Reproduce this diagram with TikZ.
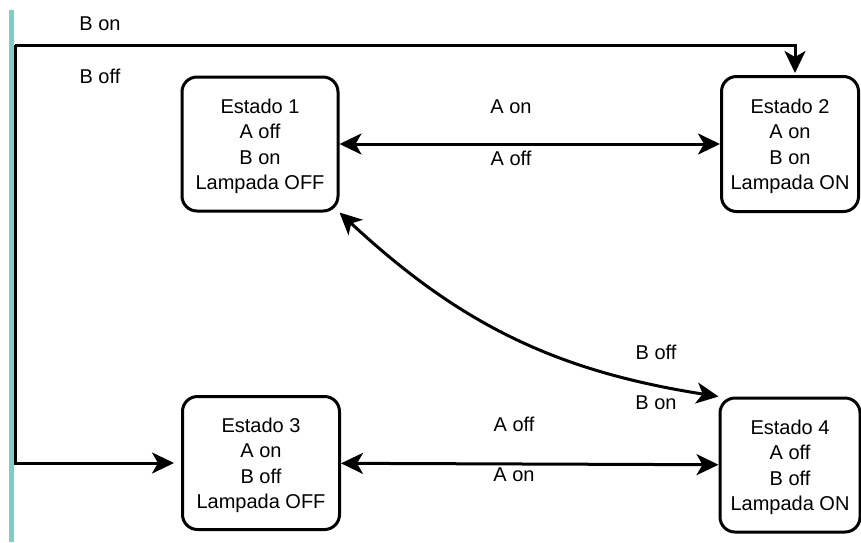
\documentclass[tikz,border=0pt]{standalone}
\usepackage{fontspec}
\setmainfont{Liberation Sans}
\usetikzlibrary{arrows.meta}
\definecolor{barteal}{RGB}{126,206,198}
\begin{document}
\begin{tikzpicture}[x=1pt,y=-1pt,
  >={Stealth[length=22pt,width=21pt,inset=6pt]},
  estado/.style={draw, line width=3pt, rounded corners=15pt, align=center, inner sep=0pt, text depth=0pt, font=\fontsize{20}{25.5}\selectfont},
  link/.style={line width=3pt},
  etiq/.style={font=\fontsize{20}{25}\selectfont}]
\useasboundingbox (0,0) rectangle (861,542);
% barra lateral
\fill[barteal] (9,10) rectangle (14,542);
\coordinate (bar) at (15,45);
% estados
\node[estado, minimum width=156pt, minimum height=134pt] (e1) at (260,144) {Estado 1\\A off\\B on\\Lampada OFF};
\node[estado, minimum width=137pt, minimum height=135pt] (e2) at (790,144) {Estado 2\\A on\\B on\\Lampada ON};
\node[estado, minimum width=157pt, minimum height=133pt] (e3) at (261,463) {Estado 3\\A on\\B off\\Lampada OFF};
\node[estado, minimum width=140pt, minimum height=134pt] (e4) at (790,465) {Estado 4\\A off\\B off\\Lampada ON};
% transicoes
\draw[link,->,shorten >=2pt] (bar) -| ([xshift=5pt]e2.north);
\draw[link,->,shorten >=7pt] (bar) |- (e3.west);
\draw[link,<->] (e1) -- (e2);
\draw[link,<->] (e3) -- (e4);
\draw[link,<->] (e1.south east) to[bend right=17] (e4.north west);
% rotulos
\node[etiq] (lbon) at (100,24) {B on};
\node[etiq] (lboff) at (100,76) {B off};
\node[etiq] (l12a) at (511,107) {A on};
\node[etiq] (l12b) at (511,158) {A off};
\node[etiq] (l14a) at (656,352) {B off};
\node[etiq] (l14b) at (656,403) {B on};
\node[etiq] (l34a) at (514,424) {A off};
\node[etiq] (l34b) at (514,475) {A on};
\end{tikzpicture}
\end{document}
